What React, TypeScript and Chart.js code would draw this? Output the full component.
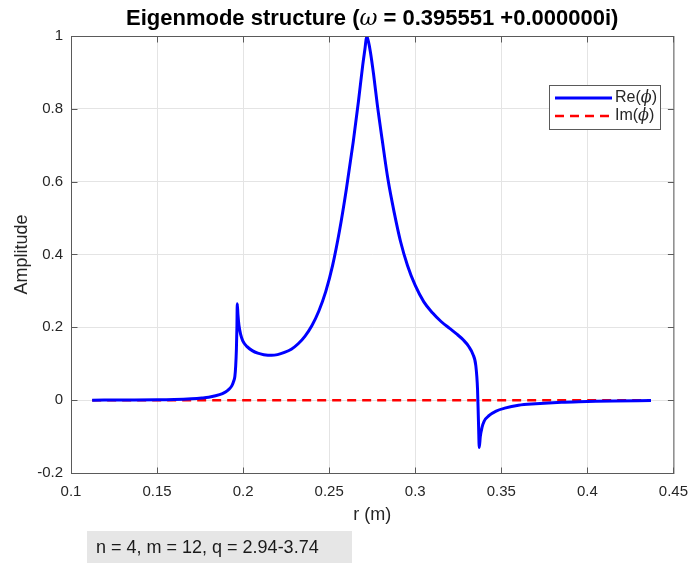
import React, { useEffect, useRef } from "react";
import { Chart, registerables } from "chart.js";

Chart.register(...registerables);

const rX = [
  0.1123, 0.13, 0.15, 0.16, 0.17, 0.176, 0.18, 0.184, 0.188, 0.19, 0.192, 0.1935, 0.1945, 0.1952, 0.1957, 0.1961,
  0.1964, 0.1966, 0.197, 0.1976, 0.1986, 0.1998, 0.2023, 0.2053, 0.2085, 0.212, 0.2165, 0.22, 0.224, 0.228, 0.232,
  0.236, 0.24, 0.244, 0.248, 0.252, 0.256, 0.26, 0.264, 0.267, 0.2695, 0.2708, 0.2718, 0.2728,
  0.274, 0.2758, 0.278, 0.2808, 0.2842, 0.2878, 0.2915, 0.2955, 0.3, 0.305, 0.31, 0.315, 0.32, 0.324, 0.328,
  0.331, 0.3335, 0.3352, 0.3362, 0.3368, 0.3372, 0.3378, 0.3388, 0.34, 0.343, 0.347, 0.352, 0.36, 0.37, 0.385,
  0.4, 0.415, 0.437,
];
const reVals = [
  0.0, 0.0005, 0.001, 0.002, 0.004, 0.006, 0.008, 0.012, 0.018, 0.023, 0.031, 0.04, 0.052, 0.065, 0.095, 0.14,
  0.2, 0.265, 0.235, 0.205, 0.18, 0.163, 0.147, 0.136, 0.129, 0.125, 0.123, 0.125, 0.131, 0.14, 0.155,
  0.176, 0.205, 0.245, 0.298, 0.37, 0.465, 0.58, 0.71, 0.82, 0.92, 0.965, 1.0, 0.985,
  0.955, 0.895, 0.81, 0.715, 0.605, 0.515, 0.435, 0.37, 0.315, 0.27, 0.24, 0.216, 0.197, 0.182, 0.165,
  0.148, 0.126, 0.095, 0.03, -0.07, -0.13, -0.1, -0.075, -0.058, -0.042, -0.03, -0.022, -0.014, -0.01, -0.006,
  -0.004, -0.002, -0.001,
];
const imX = [0.1123, 0.437];
const imVals = [0, 0];

const xTicks = [0.1, 0.15, 0.2, 0.25, 0.3, 0.35, 0.4, 0.45];
const yTicks = [-0.2, 0, 0.2, 0.4, 0.6, 0.8, 1];
const xTickLabels = ["0.1", "0.15", "0.2", "0.25", "0.3", "0.35", "0.4", "0.45"];
const yTickLabels = ["-0.2", "0", "0.2", "0.4", "0.6", "0.8", "1"];

const FONT = "'Liberation Sans', Arial, sans-serif";
const SERIF = "'DejaVu Serif', 'Liberation Serif', serif";
const AXIS = "#5a5a5a";
const TXT = "#262626";

const overlay = {
  id: "overlay",
  afterDraw(chart: any) {
    const { ctx, chartArea: a, scales } = chart;
    ctx.save();
    const line = (x1: number, y1: number, x2: number, y2: number) => {
      ctx.beginPath();
      ctx.moveTo(x1, y1);
      ctx.lineTo(x2, y2);
      ctx.stroke();
    };
    // axes box
    ctx.strokeStyle = AXIS;
    ctx.lineWidth = 1;
    const L = a.left + 0.5, R = a.right + 0.5, T = a.top + 0.5, B = a.bottom + 0.5;
    ctx.strokeRect(L, T, R - L, B - T);
    const tl = 6;
    for (const v of xTicks) {
      const px = Math.round(scales.x.getPixelForValue(v)) + 0.5;
      line(px, B, px, B - tl);
      line(px, T, px, T + tl);
    }
    for (const v of yTicks) {
      const py = Math.round(scales.y.getPixelForValue(v)) + 0.5;
      line(L, py, L + tl, py);
      line(R, py, R - tl, py);
    }

    // title with mixed fonts
    const bold = "bold 22px " + FONT;
    const ital = "italic 22px " + SERIF;
    const segs = [
      { t: "Eigenmode structure (", f: bold },
      { t: "ω", f: ital },
      { t: " = 0.395551 +0.000000i)", f: bold },
    ];
    let total = 0;
    for (const s of segs) {
      ctx.font = s.f;
      total += ctx.measureText(s.t).width;
    }
    let x = (a.left + a.right) / 2 - total / 2;
    ctx.fillStyle = "#000";
    ctx.textBaseline = "alphabetic";
    ctx.textAlign = "left";
    for (const s of segs) {
      ctx.font = s.f;
      ctx.fillText(s.t, x, 25);
      x += ctx.measureText(s.t).width;
    }

    // axis titles
    ctx.fillStyle = TXT;
    ctx.font = "18px " + FONT;
    ctx.textAlign = "center";
    ctx.textBaseline = "middle";
    ctx.fillText("r (m)", (a.left + a.right) / 2, 515);
    ctx.save();
    ctx.translate(22, (a.top + a.bottom) / 2);
    ctx.rotate(-Math.PI / 2);
    ctx.fillText("Amplitude", 0, 0);
    ctx.restore();

    // legend
    ctx.fillStyle = "#fff";
    ctx.fillRect(549.5, 85.5, 111, 44);
    ctx.strokeStyle = AXIS;
    ctx.strokeRect(549.5, 85.5, 111, 44);
    const entries = [
      { name: "Re", color: "#0000ff", dash: [] as number[], y: 98 },
      { name: "Im", color: "#ff0000", dash: [9, 6], y: 116 },
    ];
    for (const e of entries) {
      ctx.strokeStyle = e.color;
      ctx.lineWidth = e.name === "Re" ? 3 : 2.5;
      ctx.setLineDash(e.dash);
      line(555, e.y, 612, e.y);
      ctx.setLineDash([]);
      ctx.fillStyle = TXT;
      ctx.textAlign = "left";
      ctx.textBaseline = "middle";
      let lx = 615;
      ctx.font = "16px " + FONT;
      ctx.fillText(e.name + "(", lx, e.y);
      lx += ctx.measureText(e.name + "(").width;
      ctx.font = "italic 16px " + SERIF;
      ctx.fillText("ϕ", lx, e.y);
      lx += ctx.measureText("ϕ").width;
      ctx.font = "16px " + FONT;
      ctx.fillText(")", lx, e.y);
    }

    // annotation box
    ctx.fillStyle = "#e6e6e6";
    ctx.fillRect(87, 531, 265, 32);
    ctx.fillStyle = "#1a1a1a";
    ctx.font = "18px " + FONT;
    ctx.textAlign = "left";
    ctx.textBaseline = "middle";
    ctx.fillText("n = 4, m = 12, q = 2.94-3.74", 96, 548);
    ctx.restore();
  },
};

export default function App() {
  const ref = useRef<HTMLCanvasElement>(null);
  useEffect(() => {
    document.body.style.margin = "0";
    const canvas = ref.current;
    if (!canvas) return;
    const chart = new Chart(canvas, {
      type: "line",
      data: {
        datasets: [
          {
            label: "Re(ϕ)",
            data: rX.map((x, i) => ({ x, y: reVals[i] })),
            borderColor: "#0000ff",
            borderWidth: 3,
            pointRadius: 0,
            fill: false,
            cubicInterpolationMode: "monotone",
          },
          {
            label: "Im(ϕ)",
            data: imX.map((x, i) => ({ x, y: imVals[i] })),
            borderColor: "#ff0000",
            borderWidth: 2.5,
            borderDash: [9, 6],
            pointRadius: 0,
            fill: false,
          },
        ],
      },
      options: {
        animation: false,
        responsive: false,
        devicePixelRatio: 1,
        layout: { padding: { top: 36, right: 19, left: 0, bottom: 0 } },
        plugins: { legend: { display: false }, title: { display: false }, tooltip: { enabled: false } },
        scales: {
          x: {
            type: "linear",
            min: 0.1,
            max: 0.45,
            afterBuildTicks: (s: any) => {
              s.ticks = xTicks.map((v) => ({ value: v }));
            },
            afterFit: (s: any) => {
              s.height = 90;
            },
            ticks: {
              callback: (v: any, i: number) => xTickLabels[i],
              font: { family: FONT, size: 15 },
              color: TXT,
              padding: 10,
              maxRotation: 0,
              autoSkip: false,
            },
            grid: { color: "#e4e4e4", drawTicks: false },
            border: { display: false },
          },
          y: {
            type: "linear",
            min: -0.2,
            max: 1,
            afterBuildTicks: (s: any) => {
              s.ticks = yTicks.map((v) => ({ value: v }));
            },
            afterFit: (s: any) => {
              s.width = 71;
            },
            ticks: {
              callback: (v: any, i: number) => yTickLabels[i],
              font: { family: FONT, size: 15 },
              color: TXT,
              padding: 8,
              autoSkip: false,
            },
            grid: { color: "#e4e4e4", drawTicks: false },
            border: { display: false },
          },
        },
      },
      plugins: [overlay],
    } as any);
    return () => chart.destroy();
  }, []);
  return (
    <div style={{ width: 698, height: 563, background: "#fff" }}>
      <canvas ref={ref} width={698} height={563} style={{ display: "block" }} />
    </div>
  );
}
